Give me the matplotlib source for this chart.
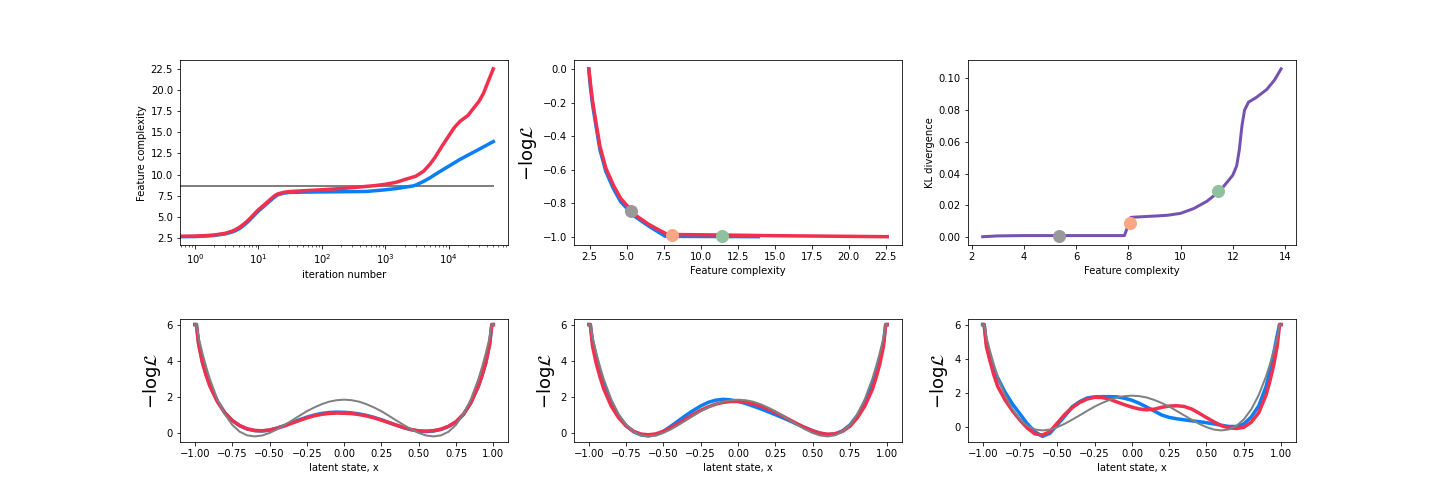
import matplotlib
matplotlib.use("Agg")
import matplotlib.pyplot as plt
from matplotlib.ticker import MultipleLocator

# colours
blue = '#0a7ff5'
red = '#f0304f'
grey = '#808080'
purple = '#7652b0'
dot_colors = ['#999999', '#fca582', '#8fc0a0']

# --- top left: feature complexity vs iteration
iters_red = [0.58, 1, 1.5, 2, 3, 4, 5, 6, 7, 8, 10, 12, 15, 18, 20, 25, 30, 50, 100, 200, 300,
             500, 700, 1000, 1500, 2000, 3000, 4000, 5000, 6000, 7000, 8000, 10000, 12000,
             13000, 15000, 20000, 22000, 30000, 35000, 40000, 50000]
fc_red = [2.7, 2.72, 2.78, 2.85, 3.05, 3.35, 3.75, 4.2, 4.65, 5.1, 5.85, 6.35, 7.0, 7.5, 7.7,
          7.9, 7.98, 8.08, 8.2, 8.35, 8.45, 8.6, 8.7, 8.85, 9.1, 9.4, 9.8, 10.4, 11.2, 12.0,
          12.8, 13.5, 14.6, 15.5, 15.8, 16.3, 17.0, 17.4, 18.7, 19.6, 20.7, 22.5]
iters_blue = [0.58, 1, 1.5, 2, 3, 4, 5, 6, 7, 8, 10, 12, 15, 18, 20, 25, 30, 50, 100, 200, 300,
              500, 1000, 1500, 2000, 2700, 3000, 4000, 5000, 7000, 10000, 15000, 20000, 30000,
              50000]
fc_blue = [2.65, 2.67, 2.73, 2.8, 2.98, 3.25, 3.6, 4.05, 4.5, 4.95, 5.7, 6.2, 6.85, 7.35, 7.6,
           7.8, 7.88, 7.92, 7.95, 7.97, 7.98, 8.0, 8.2, 8.35, 8.5, 8.65, 8.75, 9.2, 9.6, 10.3,
           11.0, 11.8, 12.3, 13.0, 13.9]
fc_ref = 8.65
iters_ref = [0.58, 50000]

# --- top middle: -log L vs feature complexity
fc_red_path = [2.45, 2.55, 2.7, 2.9, 3.2, 3.6, 4.1, 4.6, 5.3, 5.6, 6.5, 7.7, 8.1, 11.4, 15.0, 22.6]
nll_red = [0.0, -0.08, -0.19, -0.3, -0.46, -0.59, -0.69, -0.77, -0.84, -0.87, -0.925, -0.982,
           -0.985, -0.988, -0.992, -0.998]
fc_blue_path = [2.45, 2.55, 2.7, 2.9, 3.2, 3.6, 4.1, 4.6, 5.3, 5.6, 6.5, 7.6, 8.1, 11.4, 13.9]
nll_blue = [0.0, -0.1, -0.21, -0.32, -0.48, -0.61, -0.71, -0.79, -0.855, -0.88, -0.935, -0.995,
            -0.996, -0.997, -0.998]
dot_fc = [5.33, 8.08, 11.45]
dot_nll = [-0.848, -0.988, -0.995]

# --- top right: KL divergence vs feature complexity
fc_kl = [2.42, 3.0, 4.0, 6.0, 7.85, 8.1, 9.0, 9.5, 10.0, 10.5, 11.0, 11.5, 12.0, 12.15, 12.25,
         12.35, 12.45, 12.6, 12.9, 13.3, 13.6, 13.85]
kl = [0.0003, 0.0008, 0.001, 0.001, 0.001, 0.0125, 0.0133, 0.0138, 0.015, 0.018, 0.0225, 0.029,
      0.039, 0.045, 0.055, 0.07, 0.08, 0.085, 0.088, 0.093, 0.099, 0.106]
dot_kl = [0.0007, 0.009, 0.029]

# --- bottom row: potentials over latent state
x_lat = [-1.0, -0.99, -0.975, -0.95, -0.925, -0.9, -0.85, -0.8, -0.75, -0.7, -0.65, -0.6, -0.55,
         -0.5, -0.45, -0.4, -0.35, -0.3, -0.25, -0.2, -0.15, -0.1, -0.05, 0.0, 0.05, 0.1, 0.15,
         0.2, 0.25, 0.3, 0.35, 0.4, 0.45, 0.5, 0.55, 0.6, 0.65, 0.7, 0.75, 0.8, 0.85, 0.9,
         0.925, 0.95, 0.975, 0.99, 1.0]
pot_true = [6.0, 6.0, 5.28, 4.43, 3.67, 2.99, 1.88, 1.05, 0.46, 0.08, -0.12, -0.18, -0.13, 0.01,
            0.21, 0.45, 0.70, 0.96, 1.21, 1.42, 1.60, 1.74, 1.82, 1.85, 1.82, 1.74, 1.60, 1.42,
            1.21, 0.96, 0.70, 0.45, 0.21, 0.01, -0.13, -0.18, -0.12, 0.08, 0.46, 1.05, 1.88,
            2.99, 3.67, 4.43, 5.28, 6.0, 6.0]

pot_blue_1 = [6.0, 6.0, 4.95, 3.95, 3.25, 2.65, 1.78, 1.13, 0.7, 0.41, 0.23, 0.14, 0.12, 0.17,
              0.28, 0.42, 0.58, 0.74, 0.88, 1.0, 1.09, 1.14, 1.16, 1.15, 1.12, 1.06, 0.98, 0.87,
              0.74, 0.59, 0.44, 0.3, 0.19, 0.11, 0.09, 0.12, 0.21, 0.37, 0.62, 1.03, 1.68, 2.6,
              3.2, 3.9, 4.9, 6.0, 6.0]
pot_red_1 = [6.0, 6.0, 4.9, 3.9, 3.2, 2.6, 1.75, 1.12, 0.7, 0.42, 0.24, 0.15, 0.13, 0.17, 0.27,
             0.4, 0.55, 0.7, 0.84, 0.96, 1.04, 1.09, 1.11, 1.1, 1.08, 1.03, 0.95, 0.85, 0.72,
             0.58, 0.44, 0.31, 0.2, 0.13, 0.11, 0.14, 0.22, 0.38, 0.63, 1.05, 1.7, 2.6, 3.2,
             3.9, 4.9, 6.0, 6.0]

pot_blue_2 = [6.0, 6.0, 5.1, 4.2, 3.4, 2.7, 1.65, 0.95, 0.42, 0.08, -0.1, -0.15, -0.08, 0.1,
              0.38, 0.68, 0.98, 1.25, 1.5, 1.7, 1.82, 1.87, 1.84, 1.76, 1.64, 1.5, 1.35, 1.19,
              1.02, 0.85, 0.67, 0.48, 0.3, 0.13, 0.0, -0.08, -0.05, 0.12, 0.45, 0.98, 1.7,
              2.65, 3.3, 4.0, 5.0, 6.0, 6.0]
pot_red_2 = [6.0, 6.0, 4.8, 3.85, 3.1, 2.45, 1.5, 0.85, 0.4, 0.1, -0.05, -0.09, -0.04, 0.1,
             0.3, 0.53, 0.78, 1.03, 1.26, 1.45, 1.6, 1.7, 1.75, 1.75, 1.71, 1.63, 1.5, 1.34,
             1.15, 0.94, 0.72, 0.5, 0.3, 0.13, 0.0, -0.06, -0.04, 0.1, 0.38, 0.85, 1.5, 2.4,
             3.05, 3.8, 4.8, 6.0, 6.0]

pot_blue_3 = [6.0, 6.0, 4.9, 3.9, 3.35, 2.9, 2.05, 1.36, 0.78, 0.2, -0.25, -0.53, -0.35, 0.15,
              0.65, 1.2, 1.5, 1.71, 1.78, 1.79, 1.79, 1.78, 1.7, 1.58, 1.4, 1.18, 0.95, 0.72,
              0.58, 0.5, 0.44, 0.38, 0.33, 0.27, 0.2, 0.12, 0.05, 0.05, 0.2, 0.6, 1.25, 2.4,
              3.3, 4.3, 5.4, 6.0, 6.0]
pot_red_3 = [6.0, 6.0, 4.7, 3.85, 3.05, 2.4, 1.6, 0.96, 0.42, -0.05, -0.38, -0.45, -0.25, 0.25,
             0.75, 1.15, 1.45, 1.65, 1.75, 1.74, 1.64, 1.48, 1.32, 1.18, 1.07, 1.02, 1.06, 1.17,
             1.24, 1.26, 1.22, 1.07, 0.83, 0.57, 0.32, 0.1, -0.03, -0.07, 0.0, 0.3, 0.85, 1.9,
             2.7, 3.6, 4.8, 6.0, 6.0]

nll_label = r'$-\mathrm{log}\mathcal{L}$'

# 20x7 in at 72 dpi -> 1440x504
fig, axes = plt.subplots(2, 3, figsize=(20, 7),
                         gridspec_kw=dict(height_ratios=[3, 2], hspace=0.48,
                                          top=0.88, bottom=0.123))

# top left
ax = axes[0, 0]
ax.plot(iters_ref, [fc_ref, fc_ref], color=grey, lw=2)
ax.plot(iters_blue, fc_blue, color=blue, lw=3.5)
ax.plot(iters_red, fc_red, color=red, lw=3.5)
ax.set_xscale('log')
ax.set_xlim(0.58, 8.6e4)
ax.yaxis.set_major_locator(MultipleLocator(2.5))
ax.set_xlabel('iteration number')
ax.set_ylabel('Feature complexity')

# top middle
ax = axes[0, 1]
ax.plot(fc_blue_path, nll_blue, color=blue, lw=3.5)
ax.plot(fc_red_path, nll_red, color=red, lw=3.5)
for c, xx, yy in zip(dot_colors, dot_fc, dot_nll):
    ax.plot(xx, yy, 'o', color=c, ms=12, zorder=5)
ax.xaxis.set_major_locator(MultipleLocator(2.5))
ax.set_xlabel('Feature complexity')
ax.set_ylabel(nll_label, fontsize=18)

# top right
ax = axes[0, 2]
ax.plot(fc_kl, kl, color=purple, lw=3)
for c, xx, yy in zip(dot_colors, dot_fc, dot_kl):
    ax.plot(xx, yy, 'o', color=c, ms=12, zorder=5)
ax.set_xlabel('Feature complexity')
ax.set_ylabel('KL divergence')

# bottom row
fits = [(pot_blue_1, pot_red_1), (pot_blue_2, pot_red_2), (pot_blue_3, pot_red_3)]
for ax, (pb, pr) in zip(axes[1], fits):
    ax.plot(x_lat, pb, color=blue, lw=3.5)
    ax.plot(x_lat, pr, color=red, lw=3.5)
    ax.plot(x_lat, pot_true, color=grey, lw=2)
    ax.xaxis.set_major_locator(MultipleLocator(0.25))
    ax.set_xlabel('latent state, x')
    ax.set_ylabel(nll_label, fontsize=18)

fig.savefig('out.png', dpi=72)
